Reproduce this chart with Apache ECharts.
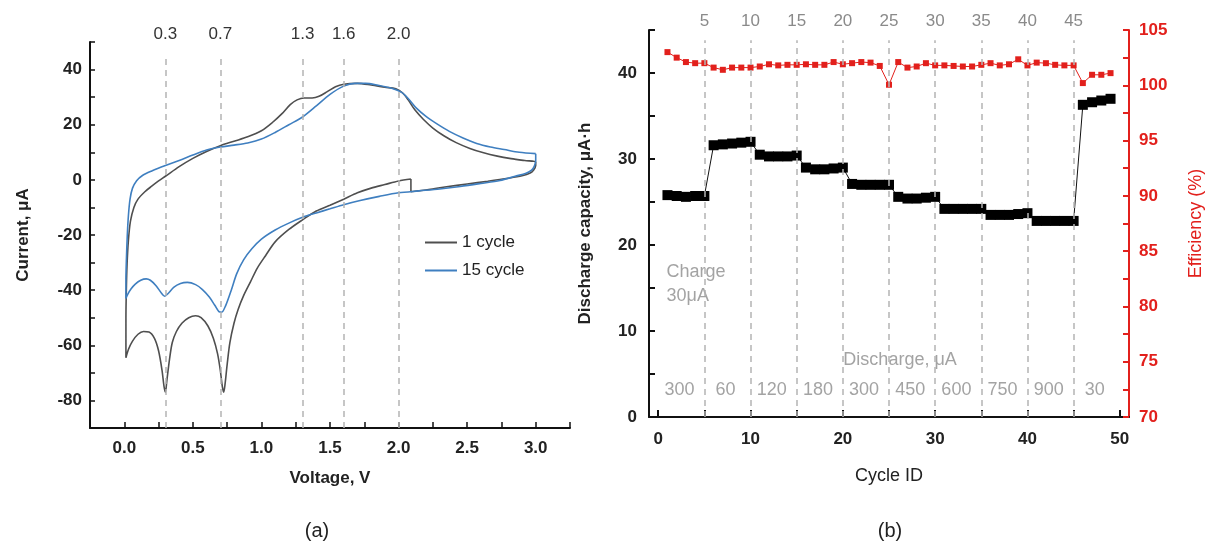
<!DOCTYPE html>
<html>
<head>
<meta charset="utf-8">
<script src="https://cdn.jsdelivr.net/npm/echarts@6/dist/echarts.min.js"></script>
<style>
  html, body { margin: 0; background: #fff; }
  #main { width: 1208px; height: 545px; }
</style>
</head>
<body>
<div id="main"></div>
<script>
// (a) cyclic voltammetry, [voltage V, current µA]
const cycle1 = [
  [2.09, 0.3], [2.0, -0.4], [1.9, -1.7], [1.8, -3], [1.7, -4.7], [1.6, -7], [1.5, -9.2], [1.4, -11.3],
  [1.3, -14.5], [1.2, -18], [1.1, -22.5], [1.03, -27.5], [0.97, -32], [0.92, -37], [0.87, -42], [0.83, -47],
  [0.8, -52], [0.77, -59], [0.75, -67], [0.735, -74], [0.725, -77], [0.715, -75], [0.7, -69], [0.68, -63],
  [0.65, -57.5], [0.61, -53], [0.56, -50], [0.52, -49.3], [0.47, -50], [0.42, -52], [0.38, -55], [0.35, -59],
  [0.33, -65], [0.31, -73], [0.3, -77], [0.29, -75], [0.275, -69], [0.25, -62], [0.22, -57.5], [0.18, -55.2],
  [0.14, -55], [0.1, -56], [0.06, -58.5], [0.03, -61.5], [0.012, -64.5],
  [0.012, -50], [0.015, -40], [0.02, -31], [0.03, -22], [0.045, -15], [0.07, -10], [0.1, -7], [0.15, -4.3],
  [0.2, -2.3], [0.25, -0.4], [0.3, 1.3], [0.4, 4.8], [0.5, 7.8], [0.6, 10.3], [0.7, 12.4], [0.8, 14],
  [0.9, 15.6], [1.0, 17.8], [1.08, 20.8], [1.15, 24], [1.21, 27.3], [1.26, 29], [1.31, 29.7], [1.37, 29.7],
  [1.42, 30.3], [1.48, 32], [1.54, 33.8], [1.6, 34.7], [1.7, 35], [1.8, 34.4], [1.9, 33.6], [1.98, 33],
  [2.03, 31.5], [2.07, 29], [2.12, 25.3], [2.18, 22], [2.25, 18.8], [2.33, 16], [2.42, 13.5], [2.52, 11.4],
  [2.62, 9.8], [2.72, 8.6], [2.82, 7.7], [2.92, 7], [3.0, 6.5],
  [3.0, 5.2], [2.985, 3.6], [2.96, 2.5], [2.9, 1.5], [2.8, 0.6], [2.65, -0.5], [2.5, -1.5], [2.35, -2.5],
  [2.22, -3.5], [2.09, -4.3], [2.09, 0.3]
];
const cycle15 = [
  [3.0, 9.5], [3.0, 7], [2.99, 5], [2.97, 3.5], [2.93, 2.4], [2.85, 1.3], [2.74, -0.2], [2.6, -1.3],
  [2.45, -2.4], [2.3, -3.3], [2.15, -4], [2.0, -4.7], [1.86, -6], [1.72, -7.5], [1.6, -9], [1.5, -10.5],
  [1.4, -12], [1.3, -13.6], [1.2, -15.7], [1.1, -18.2], [1.0, -21.5], [0.93, -25], [0.87, -29], [0.82, -34],
  [0.78, -40], [0.74, -45.5], [0.71, -48], [0.69, -47.8], [0.66, -45.5], [0.62, -42.5], [0.57, -39.8], [0.52, -38],
  [0.46, -37.2], [0.41, -37.6], [0.36, -39], [0.32, -41.2], [0.295, -42.2], [0.27, -41], [0.23, -38.3], [0.19, -36.4],
  [0.16, -35.9], [0.12, -36.4], [0.08, -37.8], [0.05, -39.5], [0.025, -41.5], [0.012, -43],
  [0.012, -36], [0.016, -28], [0.022, -20], [0.03, -13], [0.042, -7], [0.06, -3], [0.09, -0.3], [0.13, 1.5],
  [0.2, 3.2], [0.3, 5.2], [0.4, 7], [0.5, 9], [0.6, 10.8], [0.7, 11.9], [0.8, 12.6], [0.9, 13.4],
  [1.0, 14.8], [1.1, 17.2], [1.2, 20], [1.3, 22.8], [1.4, 26.8], [1.5, 31], [1.6, 34], [1.68, 35],
  [1.76, 35], [1.85, 34.3], [1.95, 33.2], [2.02, 31.8], [2.07, 29.5], [2.13, 26], [2.2, 23], [2.28, 20.3],
  [2.37, 17.6], [2.47, 15.2], [2.57, 13.2], [2.67, 11.9], [2.77, 11], [2.88, 10], [3.0, 9.5]
];
const cvMarkers = [0.3, 0.7, 1.3, 1.6, 2.0];

// (b) cycling at different discharge currents
const cycleIds = [1, 2, 3, 4, 5, 6, 7, 8, 9, 10, 11, 12, 13, 14, 15, 16, 17, 18, 19, 20, 21, 22, 23, 24, 25,
  26, 27, 28, 29, 30, 31, 32, 33, 34, 35, 36, 37, 38, 39, 40, 41, 42, 43, 44, 45, 46, 47, 48, 49];
const capacity = [25.8, 25.7, 25.6, 25.7, 25.7, 31.6, 31.7, 31.8, 31.9, 32.0, 30.5, 30.3, 30.3, 30.3, 30.4,
  29.0, 28.8, 28.8, 28.9, 29.0, 27.1, 27.0, 27.0, 27.0, 27.0, 25.6, 25.4, 25.4, 25.5, 25.6,
  24.2, 24.2, 24.2, 24.2, 24.2, 23.5, 23.5, 23.5, 23.6, 23.7, 22.8, 22.8, 22.8, 22.8, 22.8,
  36.3, 36.6, 36.8, 37.0];
const efficiency = [103.0, 102.5, 102.1, 102.0, 102.0, 101.6, 101.4, 101.6, 101.6, 101.6,
  101.7, 101.9, 101.8, 101.85, 101.85, 101.9, 101.85, 101.85, 102.1, 101.9,
  102.0, 102.1, 102.05, 101.75, 100.05, 102.1, 101.6, 101.7, 102.0, 101.8,
  101.8, 101.75, 101.7, 101.7, 101.85, 102.0, 101.8, 101.9, 102.35, 101.8,
  102.05, 102.0, 101.85, 101.8, 101.8, 100.2, 100.95, 100.95, 101.1];
const stepCycles = [5, 10, 15, 20, 25, 30, 35, 40, 45];
const stepBounds = [0, 5, 10, 15, 20, 25, 30, 35, 40, 45, 50];
const cycleLabels = [0, 10, 20, 30, 40, 50];
const dischargeCurrents = ['300', '60', '120', '180', '300', '450', '600', '750', '900', '30'];

const FONT = '"Liberation Sans", Arial, sans-serif';
const RED = '#e2201c';

const chart = echarts.init(document.getElementById('main'));

const dashed = { type: [6, 5], color: '#b4b4b4', width: 1.5 };

const cvMarkLine = {
  silent: true,
  symbol: ['none', 'none'],
  lineStyle: dashed,
  label: { show: true, position: 'end', distance: 12, formatter: '{b}', color: '#333', fontSize: 17, fontFamily: FONT },
  data: cvMarkers.map(v => [{ name: v.toFixed(1), coord: [v, -90] }, { coord: [v, 45.2] }])
};

const stepMarkLine = {
  silent: true,
  symbol: ['none', 'none'],
  lineStyle: dashed,
  label: { show: true, position: 'end', distance: 11, formatter: '{b}', color: '#8a8a8a', fontSize: 17, fontFamily: FONT },
  data: stepCycles.map(c => [{ name: String(c), coord: [c, 0] }, { coord: [c, 43.8] }])
};

const notes = dischargeCurrents.map((t, i) => ({ value: [(stepBounds[i] + stepBounds[i + 1]) / 2 - 0.2, 3.1], text: t, align: 'center' }));
notes.push({ value: [26.2, 6.6], text: 'Discharge, μA', align: 'center' });
notes.push({ value: [0.9, 16.8], text: 'Charge', align: 'left' });
notes.push({ value: [0.9, 14.1], text: '30μA', align: 'left' });

const blackAxis = { onZero: false, lineStyle: { color: '#111', width: 2 } };

chart.setOption({
  animation: false,
  textStyle: { fontFamily: FONT },
  grid: [
    { left: 90, top: 42, width: 480, height: 386 },
    { left: 649, top: 30, width: 480, height: 387 }
  ],
  legend: {
    data: ['1 cycle', '15 cycle'],
    orient: 'vertical',
    left: 420, top: 229,
    icon: 'rect',
    itemGap: 11, itemWidth: 32, itemHeight: 2,
    textStyle: { fontSize: 17, color: '#222', fontFamily: FONT }
  },
  xAxis: [
    {
      gridIndex: 0, type: 'value', min: -0.25, max: 3.25, interval: 0.25,
      name: 'Voltage, V', nameLocation: 'middle', nameGap: 42,
      nameTextStyle: { fontSize: 17, fontWeight: 'bold', color: '#222' },
      axisLine: blackAxis,
      axisTick: { inside: true, length: 6, lineStyle: { color: '#111', width: 1.5 } },
      axisLabel: {
        margin: 12, fontSize: 17, fontWeight: 'bold', color: '#222',
        formatter: v => (v >= 0 && v <= 3 && Math.abs(v * 2 - Math.round(v * 2)) < 1e-6) ? v.toFixed(1) : ''
      },
      splitLine: { show: false }
    },
    {
      gridIndex: 1, type: 'value', min: -1, max: 51,
      name: 'Cycle ID', nameLocation: 'middle', nameGap: 50,
      nameTextStyle: { fontSize: 18, color: '#222' },
      axisLine: blackAxis,
      axisTick: { inside: true, length: 7, customValues: stepBounds, lineStyle: { color: '#111', width: 2 } },
      axisLabel: { margin: 14, fontSize: 17, fontWeight: 'bold', color: '#222', customValues: cycleLabels },
      splitLine: { show: false }
    }
  ],
  yAxis: [
    {
      gridIndex: 0, type: 'value', min: -90, max: 50, interval: 10,
      name: 'Current, μA', nameLocation: 'middle', nameGap: 58, nameRotate: 90,
      nameTextStyle: { fontSize: 17, fontWeight: 'bold', color: '#222' },
      axisLine: blackAxis,
      axisTick: { inside: true, length: 5, lineStyle: { color: '#111', width: 1.5 } },
      axisLabel: {
        margin: 8, fontSize: 17, fontWeight: 'bold', color: '#222',
        formatter: v => (v % 20 === 0 && v > -90 && v < 50) ? String(v) : ''
      },
      splitLine: { show: false }
    },
    {
      gridIndex: 1, type: 'value', min: 0, max: 45, interval: 5,
      name: 'Discharge capacity, μA·h', nameLocation: 'middle', nameGap: 55, nameRotate: 90,
      nameTextStyle: { fontSize: 17, fontWeight: 'bold', color: '#222' },
      axisLine: blackAxis,
      axisTick: { inside: true, length: 6, lineStyle: { color: '#111', width: 2 } },
      axisLabel: {
        margin: 12, fontSize: 17, fontWeight: 'bold', color: '#222',
        formatter: v => (v % 10 === 0) ? String(v) : ''
      },
      splitLine: { show: false }
    },
    {
      gridIndex: 1, type: 'value', position: 'right', min: 70, max: 105, interval: 2.5,
      name: 'Efficiency (%)', nameLocation: 'middle', nameGap: 58, nameRotate: 90,
      nameTextStyle: { fontSize: 18, color: RED },
      axisLine: { onZero: false, lineStyle: { color: RED, width: 2 } },
      axisTick: { inside: true, length: 6, lineStyle: { color: RED, width: 2 } },
      axisLabel: {
        margin: 10, fontSize: 17, fontWeight: 'bold', color: RED,
        formatter: v => (v % 5 === 0) ? String(v) : ''
      },
      splitLine: { show: false }
    }
  ],
  series: [
    {
      name: '1 cycle', type: 'line', xAxisIndex: 0, yAxisIndex: 0,
      data: cycle1, symbol: 'none', smooth: 0.3,
      lineStyle: { color: '#4f4f4f', width: 1.6 }, itemStyle: { color: '#4f4f4f' },
      markLine: cvMarkLine, z: 3
    },
    {
      name: '15 cycle', type: 'line', xAxisIndex: 0, yAxisIndex: 0,
      data: cycle15, symbol: 'none', smooth: 0.3,
      lineStyle: { color: '#3f7fc0', width: 1.6 }, itemStyle: { color: '#3f7fc0' }, z: 3
    },
    {
      name: 'Discharge capacity', type: 'line', xAxisIndex: 1, yAxisIndex: 1,
      data: cycleIds.map((c, i) => [c, capacity[i]]),
      symbol: 'rect', symbolSize: 10,
      lineStyle: { color: '#111', width: 1 }, itemStyle: { color: '#000' },
      markLine: stepMarkLine, z: 3
    },
    {
      name: 'Efficiency', type: 'line', xAxisIndex: 1, yAxisIndex: 2,
      data: cycleIds.map((c, i) => [c, efficiency[i]]),
      symbol: 'rect', symbolSize: 6,
      lineStyle: { color: RED, width: 1 }, itemStyle: { color: RED }, z: 3
    },
    {
      name: 'notes', type: 'scatter', xAxisIndex: 1, yAxisIndex: 1, silent: true,
      symbolSize: 0,
      data: notes.map(n => ({
        value: n.value,
        label: { show: true, position: 'inside', formatter: n.text, align: n.align, color: '#8c8c8c', fontSize: 18, fontFamily: FONT }
      }))
    }
  ],
  graphic: [
    { type: 'text', x: 317, y: 531, style: { text: '(a)', font: '20px ' + FONT, fill: '#222', textAlign: 'center', textVerticalAlign: 'middle' } },
    { type: 'text', x: 890, y: 531, style: { text: '(b)', font: '20px ' + FONT, fill: '#222', textAlign: 'center', textVerticalAlign: 'middle' } }
  ]
});
</script>
</body>
</html>
